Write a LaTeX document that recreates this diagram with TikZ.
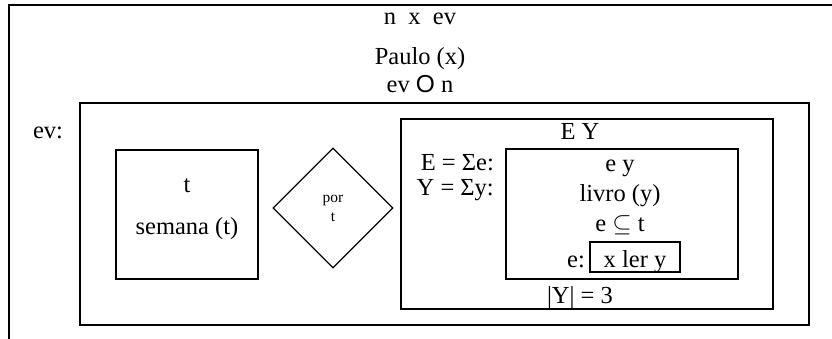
\documentclass[tikz,border=0pt]{standalone}
\usepackage{fontspec}
\setmainfont{Liberation Serif}
\newfontfamily\sansfont{Liberation Sans}
\usetikzlibrary{positioning,shapes.geometric}

\begin{document}
\begin{tikzpicture}[x=1pt,y=-1pt,
	bstyle/.style={draw, line width=1.4pt, inner sep=0pt},
	tstyle/.style={inner sep=0pt, anchor=base, font=\fontsize{24.5}{28}\selectfont},
	dstyle/.style={diamond, draw, line width=1.2pt, inner sep=0pt,
	minimum width=120pt, minimum height=120pt, align=center,
	font=\fontsize{15.5}{19}\selectfont}
	]
	\useasboundingbox (0,0) rectangle (832,339);
	\clip (0,0) rectangle (832,339);
	\draw[line width=2.2pt] (9,5) rectangle (900,400);
	
	% top of the frame
	\node[tstyle] (nxev) at (420,25) {n\ \ x\ \ ev};
	\node[tstyle] (paulo) at (420,65) {Paulo (x)};
	\node[tstyle] (evn) at (420,93) {ev {\sansfont O} n};
	\node[tstyle] (evlab) at (48,139) {ev:};
	
	% boxes
	\node[bstyle, minimum width=729pt, minimum height=222pt] (ev) at (444.5,214) {};
	\node[bstyle, minimum width=142pt, minimum height=129pt] (sem) at (187,214.5) {};
	\node[dstyle] (por) at (333,208) {por\\t};
	\node[bstyle, minimum width=372pt, minimum height=190pt] (EY) at (587,214) {};
	\node[bstyle, minimum width=232pt, minimum height=130pt] (ey) at (622,214) {};
	\node[bstyle, minimum width=90pt, minimum height=30pt] (ler) at (635,257) {};
	
	% week box
	\node[tstyle] (t) at (187,193) {t};
	\node[tstyle] (semana) at (187,234) {semana (t)};
	
	% plural box
	\node[tstyle] (EYlab) at (580,140) {E Y};
	\node[tstyle, anchor=base east] (Esum) at (494,171) {E = Σe:};
	\node[tstyle, anchor=base east] (Ysum) at (494,196) {Y = Σy:};
	\node[tstyle] (eylab) at (620,172) {e y};
	\node[tstyle] (livro) at (620,201) {livro (y)};
	\node[tstyle] (sub) at (620,231) {e $\subseteq$ t};
	\node[tstyle] (elab) at (576,267) {e:};
	\node[tstyle] (lertxt) at (ler.center |- 0,267) {x ler y};
	\node[tstyle] (card) at (580,303) {|Y| = 3};
\end{tikzpicture}
\end{document}
